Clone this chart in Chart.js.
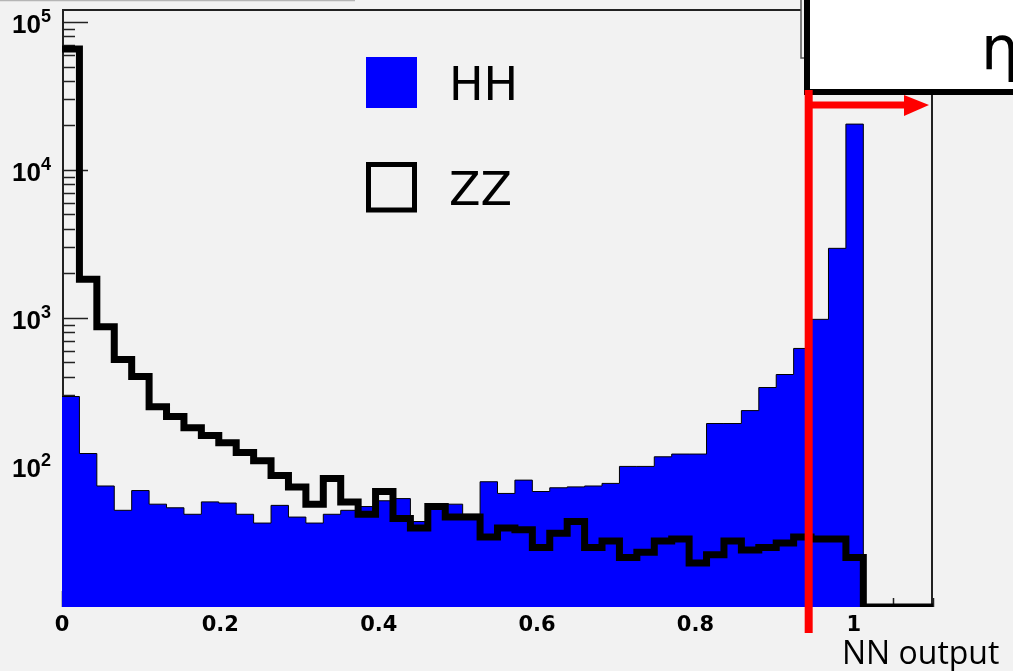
<!DOCTYPE html>
<html lang="en">
<head>
<meta charset="UTF-8" />
<title>NN output</title>
<script src="https://cdn.jsdelivr.net/npm/chart.js"></script>
<style>
  html, body { margin: 0; padding: 0; background: #f2f2f2; }
  canvas { display: block; }
</style>
</head>
<body>
<canvas id="nn-chart" width="1013" height="671"></canvas>
<script>
  // 50 bins of width 0.022 between 0 and 1.1
  const binWidth = 0.022;
  const hhCounts = [294, 121, 73, 50, 68, 55, 52, 47, 57, 56,
                    47, 41, 54, 45, 41, 47, 50, 53, 58, 60,
                    42, 52, 55, 47, 78, 65, 80, 67, 71, 72,
                    73, 76, 99, 99, 115, 120, 120, 193, 193, 236,
                    338, 414, 621, 977, 2950, 20400, 0, 0, 0, 0];
  const zzCounts = [65600, 1820, 870, 523, 401, 251, 215, 181, 160, 143,
                    123, 108, 86, 72, 55, 82, 57, 47, 67, 44,
                    38, 53, 45, 45, 33, 38, 37, 28, 35, 42,
                    28, 31, 24, 26, 31, 32, 22, 25, 31, 27,
                    28, 30, 33, 32, 32, 24, 0, 0, 0, 0];
  const xTickValues = [0, 0.2, 0.4, 0.6, 0.8, 1];
  const yTickValues = [100, 1000, 10000, 100000];
  const cutValue = 0.943;

  const yMin = 11.1;
  const yMax = 120500;

  // empty bins are drawn on the bottom of the frame, like ROOT does
  function toSteps(counts) {
    const pts = counts.map((c, i) => ({ x: Math.round(i * binWidth * 1000) / 1000, y: c > 0 ? c : yMin }));
    pts.push({ x: Math.round(counts.length * binWidth * 1000) / 1000, y: pts[pts.length - 1].y });
    return pts;
  }

  // frame + inner ticks, drawn under the histograms
  const frameTicks = {
    id: 'frameTicks',
    beforeDatasetsDraw(chart) {
      const { ctx, chartArea: a, scales: { x, y } } = chart;
      ctx.save();
      ctx.strokeStyle = '#222';
      ctx.lineWidth = 2;
      ctx.beginPath();
      ctx.moveTo(a.left + 1, a.bottom);
      ctx.lineTo(a.left + 1, a.top);
      ctx.lineTo(801, a.top);
      ctx.moveTo(a.right - 1, 92);
      ctx.lineTo(a.right - 1, a.bottom);
      ctx.stroke();

      ctx.lineWidth = 1.5;
      ctx.beginPath();
      for (let d = 10; d <= 100000; d *= 10) {
        for (let k = 1; k <= 9; k++) {
          const v = d * k;
          if (v < yMin || v > yMax) continue;
          const py = Math.round(y.getPixelForValue(v)) + 0.5;
          ctx.moveTo(a.left, py);
          ctx.lineTo(a.left + (k === 1 ? 26 : 13), py);
        }
      }
      for (let i = 0; i <= 22; i++) {
        const v = i * 0.05;
        const px = Math.round(x.getPixelForValue(v)) + 0.5;
        ctx.moveTo(px, a.bottom);
        ctx.lineTo(px, a.bottom - (i % 4 === 0 ? 16 : 9));
      }
      ctx.stroke();
      ctx.restore();
    }
  };

  // exponents of the y labels, cut line, label box, legend and axis title
  const decorations = {
    id: 'decorations',
    afterDraw(chart) {
      const { ctx, scales: { x, y } } = chart;
      ctx.save();

      ctx.fillStyle = '#000';
      ctx.font = 'bold 18px "Liberation Sans"';
      ctx.textBaseline = 'alphabetic';
      yTickValues.forEach((v) => {
        ctx.fillText(String(Math.round(Math.log10(v))), 41, y.getPixelForValue(v) + 0.5);
      });

      // leftover outlines at the top
      ctx.strokeStyle = '#b5b5b5';
      ctx.lineWidth = 1.5;
      ctx.beginPath();
      ctx.moveTo(0, 0.5);
      ctx.lineTo(355, 0.5);
      ctx.stroke();
      ctx.strokeStyle = '#555';
      ctx.beginPath();
      ctx.moveTo(801, 0);
      ctx.lineTo(801, 58);
      ctx.lineTo(806, 58);
      ctx.stroke();

      // box in the top right corner
      ctx.fillStyle = '#ffffff';
      ctx.fillRect(807, -10, 220, 102);
      ctx.strokeStyle = '#000';
      ctx.lineWidth = 6;
      ctx.strokeRect(807, -10, 220, 102);
      ctx.fillStyle = '#000';
      ctx.font = '60px "DejaVu Sans"';
      ctx.fillText('η', 981, 69);

      // cut
      const cx = x.getPixelForValue(cutValue);
      ctx.strokeStyle = '#ff0000';
      ctx.fillStyle = '#ff0000';
      ctx.lineWidth = 8;
      ctx.beginPath();
      ctx.moveTo(cx, 90);
      ctx.lineTo(cx, 633);
      ctx.stroke();
      ctx.lineWidth = 7;
      ctx.beginPath();
      ctx.moveTo(cx, 105);
      ctx.lineTo(908, 105);
      ctx.stroke();
      ctx.beginPath();
      ctx.moveTo(904, 95);
      ctx.lineTo(929, 105);
      ctx.lineTo(904, 116);
      ctx.closePath();
      ctx.fill();

      // legend
      ctx.fillStyle = '#0000ff';
      ctx.fillRect(366, 57, 51, 51);
      ctx.strokeStyle = '#000';
      ctx.lineWidth = 5;
      ctx.strokeRect(368.5, 164.5, 46, 45.5);
      ctx.fillStyle = '#000';
      ctx.font = '46px "DejaVu Sans"';
      ctx.fillText('HH', 449, 100);
      ctx.fillText('ZZ', 449, 205);

      ctx.font = '32px "Open Sans"';
      ctx.fillText('NN output', 842, 664);
      ctx.restore();
    }
  };

  new Chart(document.getElementById('nn-chart'), {
    type: 'line',
    data: {
      datasets: [
        {
          label: 'ZZ',
          data: toSteps(zzCounts),
          stepped: true,
          borderColor: '#000000',
          borderWidth: 7,
          borderJoinStyle: 'miter',
          pointRadius: 0,
          fill: false,
          order: 1
        },
        {
          label: 'HH',
          data: toSteps(hhCounts),
          stepped: true,
          borderColor: '#000000',
          borderWidth: 1,
          backgroundColor: '#0000ff',
          pointRadius: 0,
          fill: 'start',
          order: 2
        }
      ]
    },
    options: {
      responsive: false,
      animation: false,
      devicePixelRatio: 1,
      layout: { padding: { top: 10, right: 80, left: 0, bottom: 0 } },
      plugins: { legend: { display: false }, tooltip: { enabled: false } },
      scales: {
        x: {
          type: 'linear',
          min: 0,
          max: 1.1,
          grid: { display: false, drawTicks: false },
          border: { display: false },
          afterBuildTicks: (scale) => { scale.ticks = xTickValues.map((v) => ({ value: v })); },
          afterFit: (scale) => {
            scale.height = 64;
            scale.paddingLeft = 0;
            scale.paddingRight = 0;
          },
          ticks: {
            font: { family: '"DejaVu Sans"', size: 21, weight: 'bold' },
            color: '#000',
            padding: 6,
            maxRotation: 0,
            autoSkip: false,
            callback: (v) => String(Math.round(v * 10) / 10)
          }
        },
        y: {
          type: 'logarithmic',
          min: yMin,
          max: yMax,
          grid: { display: false, drawTicks: false },
          border: { display: false },
          afterBuildTicks: (scale) => { scale.ticks = yTickValues.map((v) => ({ value: v })); },
          afterFit: (scale) => {
            scale.width = 62;
            scale.paddingTop = 0;
            scale.paddingBottom = 0;
          },
          ticks: {
            font: { family: '"Liberation Sans"', size: 26, weight: 'bold' },
            color: '#000',
            padding: 21,
            labelOffset: 4,
            autoSkip: false,
            callback: () => '10'
          }
        }
      }
    },
    plugins: [frameTicks, decorations]
  });
</script>
</body>
</html>
